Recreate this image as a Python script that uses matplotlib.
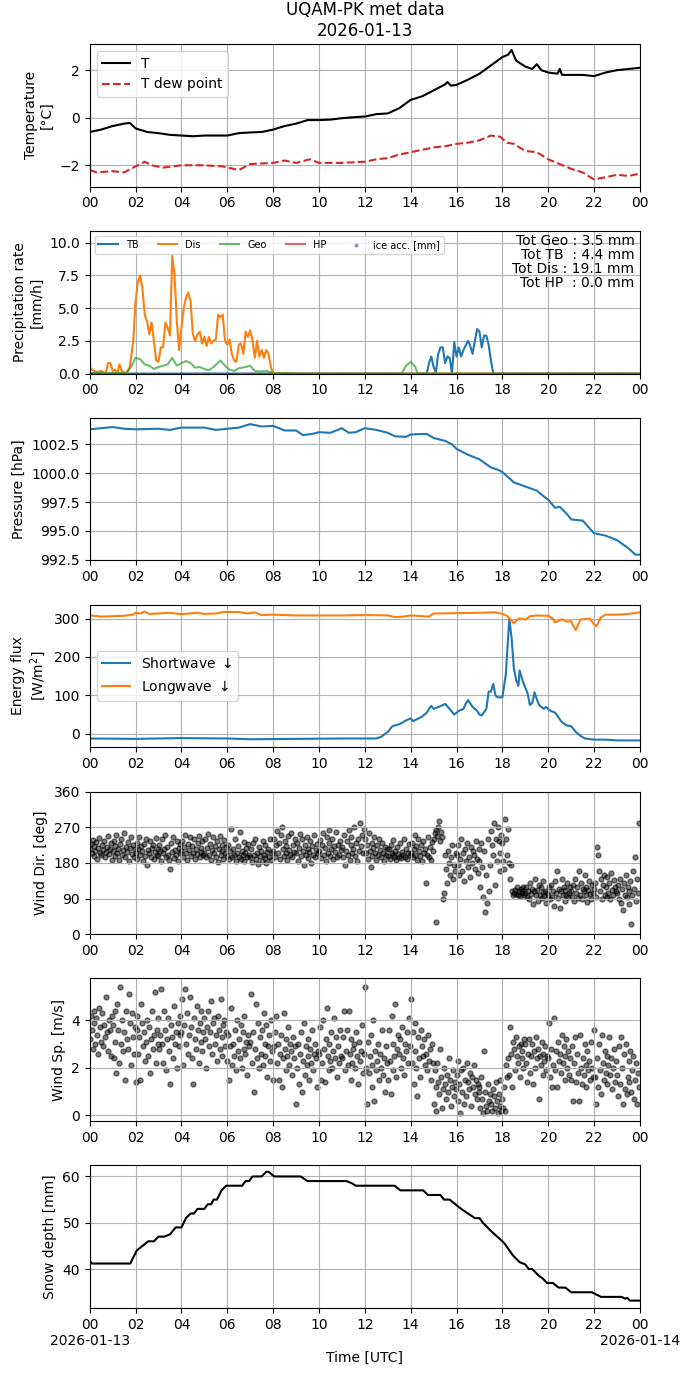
import numpy as np
from matplotlib import pyplot as plt

# time axis in hours since 2026-01-13 00 UTC
t_hours = [0, 0.5, 1, 1.5, 1.75, 2, 2.5, 3, 3.5, 4, 4.5, 5, 5.5, 6, 6.5, 7, 7.5, 8,
           8.5, 9, 9.5, 10, 10.5, 11, 11.5, 12, 12.5, 13, 13.5, 14, 14.5, 15, 15.5,
           15.6, 15.75, 16, 16.5, 17, 17.5, 18, 18.25, 18.4, 18.6, 19, 19.3, 19.5,
           19.7, 20, 20.4, 20.5, 20.6, 21, 21.5, 22, 22.5, 23, 23.5, 24]
temp = [-0.6, -0.5, -0.35, -0.25, -0.22, -0.45, -0.6, -0.65, -0.72, -0.75, -0.78,
        -0.75, -0.75, -0.75, -0.65, -0.62, -0.6, -0.5, -0.35, -0.25, -0.1, -0.1,
        -0.08, -0.02, 0.02, 0.05, 0.15, 0.18, 0.4, 0.75, 0.9, 1.15, 1.4, 1.5, 1.35,
        1.38, 1.6, 1.85, 2.2, 2.55, 2.65, 2.85, 2.4, 2.15, 2.05, 2.25, 2.0, 1.9,
        1.85, 2.05, 1.8, 1.8, 1.8, 1.75, 1.9, 2.0, 2.05, 2.1]

td_hours = [0, 0.3, 1, 1.5, 1.9, 2.4, 2.7, 3.2, 4, 5, 5.8, 6.5, 7, 8, 8.5, 9, 9.6,
            10, 11, 12, 12.5, 13, 13.5, 14, 14.5, 15, 15.5, 16, 16.5, 17, 17.5, 17.9,
            18.2, 18.5, 19, 19.5, 20, 20.5, 21, 21.5, 22, 22.5, 23, 23.5, 24]
tdew = [-2.2, -2.3, -2.25, -2.3, -2.1, -1.85, -2.0, -2.1, -2.0, -2.0, -2.05, -2.2,
        -1.95, -1.9, -1.8, -1.9, -1.75, -1.9, -1.9, -1.85, -1.75, -1.7, -1.55, -1.45,
        -1.35, -1.25, -1.2, -1.1, -1.05, -0.95, -0.75, -0.8, -1.05, -1.1, -1.4, -1.45,
        -1.75, -1.95, -2.15, -2.3, -2.6, -2.5, -2.4, -2.45, -2.35]

# precipitation rates [mm/h]
dis_hours = [0, 0.1, 0.3, 0.5, 0.7, 0.8, 0.9, 1.0, 1.1, 1.2, 1.3, 1.4, 1.5, 1.6, 1.75,
             1.9, 2.0, 2.1, 2.2, 2.3, 2.4, 2.5, 2.6, 2.7, 2.8, 2.9, 3.0, 3.1, 3.2, 3.3,
             3.4, 3.5, 3.6, 3.7, 3.8, 3.9, 4.0, 4.1, 4.2, 4.3, 4.4, 4.5, 4.6, 4.7, 4.8,
             4.9, 5.0, 5.1, 5.2, 5.3, 5.4, 5.5, 5.6, 5.7, 5.8, 5.9, 6.0, 6.1, 6.2, 6.3,
             6.4, 6.5, 6.6, 6.7, 6.8, 6.9, 7.0, 7.1, 7.2, 7.3, 7.4, 7.5, 7.6, 7.7, 7.8,
             7.9, 8.0, 24]
dis = [0.5, 0.3, 0.1, 0.2, 0.0, 0.8, 0.8, 0.2, 0.3, 0.0, 0.7, 0.2, 0.1, 0.0, 0.5,
       2.5, 5.5, 7.0, 7.5, 6.5, 4.5, 4.0, 3.0, 3.9, 2.5, 1.0, 0.9, 2.0, 2.0, 3.9,
       3.5, 2.9, 9.0, 7.5, 4.0, 1.8, 3.5, 5.0, 5.8, 6.2, 5.5, 3.0, 2.5, 3.0, 3.2,
       2.3, 2.8, 2.1, 2.8, 2.3, 2.5, 2.6, 4.5, 4.3, 4.5, 2.5, 2.2, 2.6, 1.5, 1.0,
       0.9, 2.2, 2.3, 1.5, 3.2, 2.8, 3.3, 2.5, 1.2, 2.5, 1.3, 1.8, 1.2, 1.8, 1.5,
       0.5, 0.0, 0.0]

geo_hours = [0, 1.6, 1.8, 2.0, 2.2, 2.4, 2.6, 2.8, 3.0, 3.2, 3.4, 3.6, 3.8, 4.0, 4.2,
             4.4, 4.6, 4.8, 5.0, 5.2, 5.4, 5.7, 5.9, 6.1, 6.3, 6.5, 6.8, 7.0, 7.2, 7.4,
             7.7, 7.9, 8.2, 8.6, 9, 13.6, 13.8, 14.0, 14.2, 14.3, 24]
geo = [0.05, 0.05, 0.5, 1.2, 1.1, 0.7, 0.6, 0.35, 0.5, 0.6, 0.7, 1.2, 0.6, 0.8, 0.95,
       0.8, 0.45, 0.5, 0.35, 0.25, 0.5, 1.0, 0.6, 0.3, 0.2, 0.4, 0.5, 0.6, 0.2, 0.15,
       0.2, 0.1, 0.0, 0.05, 0.0, 0.0, 0.6, 0.9, 0.5, 0.0, 0.0]

tb_hours = [0, 14.7, 14.8, 14.9, 15.0, 15.1, 15.2, 15.3, 15.4, 15.5, 15.6, 15.7, 15.8,
            15.9, 16.0, 16.1, 16.2, 16.3, 16.5, 16.6, 16.7, 16.8, 16.9, 17.0, 17.1,
            17.2, 17.3, 17.4, 17.5, 17.6, 24]
tb = [0.0, 0.0, 0.8, 1.3, 0.5, 0.1, 1.5, 2.0, 2.0, 0.8, 1.3, 1.2, 0.0, 2.4, 1.3, 2.0,
      1.3, 1.8, 2.5, 2.1, 1.5, 2.5, 3.4, 3.2, 2.0, 2.9, 2.9, 2.2, 1.0, 0.0, 0.0]

hp_hours = [0, 24]
hp = [0.0, 0.0]
ice_hours = list(range(25))
ice = [0.0] * 25

tot_geo, tot_tb, tot_dis, tot_hp = 3.5, 4.4, 19.1, 0.0

p_hours = [0, 0.5, 1, 1.5, 2, 3, 3.5, 4, 5, 5.5, 6, 6.5, 7, 7.5, 8, 8.5, 9, 9.3, 9.7,
           10, 10.5, 11, 11.3, 11.6, 12, 12.5, 13, 13.3, 13.8, 14, 14.5, 14.7, 15,
           15.5, 15.8, 16, 16.5, 17, 17.5, 17.8, 18, 18.5, 19, 19.5, 19.8, 20, 20.3,
           20.5, 20.8, 21, 21.5, 22, 22.5, 23, 23.5, 23.8, 24]
pres = [1003.8, 1003.9, 1004.0, 1003.85, 1003.8, 1003.85, 1003.75, 1003.95, 1003.95,
        1003.75, 1003.85, 1003.95, 1004.25, 1004.05, 1004.1, 1003.7, 1003.7, 1003.3,
        1003.4, 1003.55, 1003.5, 1003.9, 1003.5, 1003.55, 1003.9, 1003.75, 1003.5,
        1003.2, 1003.15, 1003.35, 1003.4, 1003.4, 1003.05, 1002.8, 1002.5, 1002.1,
        1001.6, 1001.2, 1000.5, 1000.3, 1000.1, 999.2, 998.85, 998.5, 998.0, 997.7,
        997.0, 997.1, 996.5, 996.0, 995.9, 994.8, 994.6, 994.2, 993.5, 992.95, 992.95]

sw_hours = [0, 2, 4, 6, 7, 9, 11, 12, 12.5, 12.7, 13, 13.2, 13.5, 13.8, 14, 14.1, 14.5,
            14.7, 14.8, 14.9, 15, 15.3, 15.5, 15.7, 15.9, 16, 16.1, 16.3, 16.4, 16.5,
            16.7, 16.9, 17, 17.1, 17.3, 17.4, 17.5, 17.6, 17.7, 17.8, 18.0, 18.15,
            18.3, 18.4, 18.5, 18.6, 18.7, 18.75, 18.9, 19.1, 19.2, 19.3, 19.4, 19.5,
            19.6, 19.8, 19.9, 20.1, 20.3, 20.6, 20.8, 21.0, 21.2, 21.4, 21.6, 22,
            22.5, 23, 24]
sw = [-12, -13, -11, -12, -14, -13, -12, -12, -12, -8, 5, 20, 25, 35, 40, 33, 45, 55,
      65, 73, 65, 72, 78, 65, 50, 55, 60, 65, 78, 88, 70, 60, 50, 48, 65, 110, 110,
      130, 100, 95, 95, 155, 300, 250, 170, 140, 125, 165, 135, 105, 75, 80, 108, 90,
      75, 65, 70, 60, 55, 30, 22, 20, 5, -5, -12, -15, -15, -17, -17]

lw_hours = [0, 0.5, 1, 1.5, 1.9, 2.0, 2.2, 2.4, 2.6, 3, 3.5, 4, 4.3, 4.7, 5, 5.5, 5.8,
            6.5, 6.9, 7.2, 7.5, 8, 9, 10, 11, 12, 13, 13.3, 13.7, 14, 14.8, 15, 16,
            17, 17.7, 18, 18.2, 18.4, 18.5, 18.7, 18.8, 19, 19.2, 19.5, 20, 20.2, 20.3,
            20.6, 20.8, 21, 21.1, 21.2, 21.4, 21.8, 22, 22.1, 22.3, 22.5, 23, 23.5, 24]
lw = [308, 305, 306, 307, 310, 315, 313, 318, 312, 313, 315, 311, 313, 315, 312, 313,
      317, 317, 313, 316, 309, 310, 308, 308, 308, 309, 308, 304, 305, 308, 305, 313,
      314, 315, 316, 312, 307, 295, 287, 300, 300, 297, 306, 308, 307, 300, 290, 298,
      292, 293, 280, 270, 297, 300, 285, 280, 303, 310, 310, 312, 316]

# wind, 24 samples per hour (every 2.5 min), one row per hour
wdir = [
    215, 228, 205, 238, 198, 222, 210, 232, 190, 218, 242, 205, 200, 226, 212, 235, 195, 208, 220, 248, 202, 215, 230, 188,
    210, 235, 198, 222, 250, 205, 215, 188, 228, 240, 200, 212, 255, 195, 220, 208, 232, 185, 218, 245, 202, 226, 196, 214,
    205, 230, 190, 215, 245, 200, 222, 210, 185, 228, 198, 240, 175, 212, 205, 235, 195, 218, 225, 190, 208, 242, 200, 214,
    198, 225, 210, 185, 240, 205, 215, 250, 195, 220, 200, 188, 165, 230, 208, 245, 192, 212, 200, 235, 185, 218, 205, 228,
    210, 235, 195, 220, 250, 205, 188, 228, 212, 245, 198, 222, 206, 240, 190, 215, 202, 230, 248, 196, 218, 208, 236, 200,
    205, 240, 195, 218, 252, 200, 228, 188, 212, 245, 206, 222, 196, 235, 182, 215, 248, 200, 226, 210, 190, 238, 204, 220,
    198, 225, 190, 210, 265, 195, 215, 200, 240, 185, 205, 222, 196, 258, 190, 210, 200, 232, 186, 204, 218, 195, 228, 200,
    195, 215, 182, 230, 200, 240, 190, 205, 178, 220, 198, 210, 186, 236, 200, 192, 225, 180, 208, 215, 196, 240, 188, 205,
    210, 240, 195, 225, 260, 205, 230, 190, 250, 270, 215, 198, 236, 205, 222, 188, 248, 212, 200, 255, 196, 226, 208, 240,
    205, 230, 185, 218, 252, 198, 240, 210, 175, 225, 200, 245, 192, 215, 208, 236, 180, 222, 200, 250, 195, 212, 228, 205,
    210, 238, 192, 225, 255, 200, 218, 185, 245, 205, 230, 262, 198, 215, 240, 190, 222, 208, 258, 196, 226, 200, 235, 212,
    220, 195, 250, 175, 210, 235, 200, 262, 188, 225, 245, 205, 215, 270, 198, 230, 185, 240, 210, 280, 222, 250, 205, 265,
    240, 205, 225, 190, 255, 210, 170, 230, 198, 218, 245, 205, 188, 225, 200, 240, 212, 195, 230, 205, 185, 220, 200, 215,
    198, 215, 190, 225, 205, 200, 238, 195, 210, 188, 220, 202, 196, 230, 192, 208, 200, 240, 195, 215, 190, 205, 228, 200,
    205, 230, 195, 215, 250, 200, 222, 188, 240, 210, 198, 225, 185, 235, 205, 215, 128, 200, 245, 195, 220, 188, 232, 210,
    240, 255, 30, 262, 248, 270, 285, 235, 258, 245, 90, 105, 200, 165, 130, 210, 180, 150, 195, 225, 140, 175, 160, 205,
    200, 175, 225, 150, 190, 240, 160, 205, 135, 215, 185, 230, 170, 195, 145, 220, 180, 210, 200, 165, 235, 190, 155, 215,
    185, 120, 230, 170, 95, 210, 55, 150, 80, 240, 110, 175, 260, 225, 200, 280, 125, 240, 185, 270, 235, 205, 160, 250,
    230, 185, 165, 290, 240, 200, 265, 180, 140, 175, 110, 98, 105, 112, 102, 118, 100, 108, 96, 115, 104, 110, 120, 100,
    105, 120, 95, 110, 88, 130, 102, 115, 75, 108, 140, 98, 112, 85, 125, 100, 118, 92, 106, 135, 96, 110, 80, 104,
    100, 118, 88, 125, 95, 110, 70, 135, 105, 160, 92, 115, 65, 108, 140, 98, 120, 85, 112, 100, 130, 94, 105, 118,
    110, 95, 125, 85, 140, 105, 118, 92, 160, 100, 130, 88, 115, 108, 150, 98, 120, 82, 112, 135, 102, 90, 125, 105,
    115, 130, 95, 220, 200, 160, 110, 140, 88, 125, 150, 100, 118, 95, 145, 105, 130, 90, 155, 112, 98, 138, 120, 108,
    105, 125, 90, 140, 80, 115, 60, 130, 100, 150, 95, 120, 75, 110, 135, 25, 98, 160, 115, 195, 85, 140, 105, 280,
]
wspd = [
    3.2, 4.2, 3.6, 2.8, 4.4, 3.9, 3.0, 4.1, 3.4, 2.6, 4.5, 3.7, 3.1, 4.3, 2.9, 3.8, 3.3, 5.0, 3.5, 2.7, 4.0, 3.6, 2.5, 4.2,
    3.8, 2.4, 4.4, 3.1, 1.8, 4.7, 3.6, 2.2, 5.4, 3.0, 4.0, 2.7, 3.5, 1.5, 4.4, 3.2, 2.8, 5.1, 3.9, 2.1, 4.3, 3.3, 2.6, 3.7,
    1.4, 3.6, 4.2, 2.6, 3.3, 1.5, 4.7, 3.9, 2.9, 3.5, 2.3, 3.1, 4.0, 2.5, 3.7, 1.8, 3.2, 4.4, 2.8, 3.4, 5.2, 2.2, 3.6, 3.0,
    4.1, 2.8, 3.4, 5.3, 3.0, 2.2, 4.4, 3.6, 1.9, 3.2, 4.1, 2.7, 1.3, 3.8, 3.3, 2.4, 4.6, 3.0, 3.5, 2.0, 3.9, 2.9, 4.2, 3.4,
    3.5, 4.9, 2.1, 3.8, 5.3, 3.0, 4.3, 2.6, 3.4, 5.0, 3.7, 2.4, 1.3, 4.1, 3.2, 2.8, 4.6, 3.6, 2.2, 3.9, 3.1, 4.4, 2.7, 3.5,
    4.1, 3.2, 2.0, 3.7, 4.4, 2.9, 3.5, 4.8, 2.6, 3.9, 4.1, 3.0, 3.4, 2.3, 4.2, 3.6, 2.8, 4.9, 3.3, 2.5, 3.8, 4.0, 2.9, 3.5,
    2.3, 3.4, 1.5, 2.9, 4.5, 2.1, 3.0, 2.5, 3.6, 1.9, 4.0, 2.7, 3.2, 2.4, 3.8, 2.0, 3.5, 2.8, 4.2, 2.6, 3.1, 1.7, 3.4, 2.9,
    3.1, 5.1, 2.2, 3.5, 1.0, 2.8, 4.7, 2.4, 3.9, 2.0, 3.3, 2.6, 3.6, 2.1, 4.3, 3.0, 2.5, 3.8, 1.6, 2.9, 3.4, 2.3, 4.0, 2.7,
    1.5, 2.9, 3.5, 4.2, 2.2, 3.0, 1.5, 2.6, 3.4, 1.2, 2.4, 4.3, 2.8, 3.2, 1.9, 2.5, 3.7, 2.1, 3.0, 2.7, 1.7, 3.3, 2.4, 2.9,
    0.5, 2.0, 3.0, 1.3, 2.6, 3.5, 1.0, 2.3, 3.9, 1.7, 2.9, 2.1, 2.5, 3.2, 1.5, 2.8, 2.2, 3.6, 1.9, 2.6, 3.0, 2.4, 1.2, 2.7,
    2.6, 3.7, 1.5, 2.2, 4.0, 2.8, 1.4, 3.2, 4.5, 2.5, 1.9, 3.0, 2.3, 3.5, 2.0, 2.7, 4.1, 2.4, 3.3, 1.6, 2.9, 2.2, 3.6, 2.5,
    2.4, 3.3, 4.4, 1.9, 2.7, 3.6, 2.1, 4.4, 2.6, 1.5, 3.2, 2.2, 2.8, 3.0, 2.0, 3.5, 2.5, 1.3, 3.1, 2.3, 2.7, 3.8, 1.8, 2.6,
    5.4, 2.0, 0.5, 3.1, 1.8, 2.5, 3.4, 1.2, 2.1, 4.0, 0.6, 2.7, 1.9, 2.3, 3.0, 1.5, 2.6, 2.0, 3.6, 1.7, 2.4, 1.0, 2.9, 2.2,
    1.5, 3.6, 2.3, 0.9, 4.2, 1.9, 3.0, 2.5, 4.7, 1.6, 2.8, 3.4, 2.6, 3.2, 2.0, 3.7, 2.4, 1.7, 3.0, 2.7, 3.5, 2.2, 4.1, 2.9,
    4.9, 2.2, 3.5, 1.3, 2.7, 3.9, 2.0, 0.8, 3.3, 2.4, 1.6, 3.6, 2.9, 2.5, 3.2, 2.1, 2.6, 1.9, 3.4, 2.3, 2.8, 1.5, 3.0, 2.2,
    0.5, 1.9, 1.2, 0.2, 2.2, 1.4, 0.9, 2.8, 1.6, 0.3, 1.1, 2.0, 1.3, 0.7, 1.7, 1.0, 2.4, 1.5, 0.4, 1.2, 1.9, 0.8, 1.4, 1.1,
    1.7, 0.6, 2.3, 1.3, 0.1, 1.9, 1.0, 2.0, 0.5, 1.5, 0.8, 2.2, 1.4, 1.1, 1.8, 0.4, 1.6, 1.2, 2.1, 0.9, 1.5, 0.7, 1.3, 1.0,
    1.2, 0.3, 1.6, 0.7, 0.1, 2.7, 1.0, 0.4, 0.2, 1.3, 0.6, 0.9, 0.5, 0.2, 1.1, 0.8, 0.3, 1.4, 0.6, 0.1, 0.9, 0.4, 1.5, 0.2,
    0.7, 0.3, 1.2, 0.2, 2.1, 1.6, 2.4, 1.7, 3.7, 2.6, 1.2, 3.1, 2.8, 1.9, 3.3, 2.5, 2.2, 2.9, 1.6, 3.0, 2.4, 2.7, 2.0, 3.2,
    3.0, 2.2, 1.4, 2.6, 3.2, 1.8, 2.5, 3.0, 1.3, 2.7, 2.0, 3.3, 2.4, 2.8, 0.7, 2.5, 2.1, 3.1, 1.7, 2.6, 2.3, 2.9, 1.9, 2.5,
    2.4, 3.9, 1.6, 2.8, 1.2, 2.1, 4.1, 1.9, 2.7, 1.2, 3.1, 2.3, 2.6, 1.8, 3.4, 2.2, 2.9, 1.5, 2.5, 3.2, 2.0, 2.7, 1.7, 2.4,
    1.5, 2.9, 0.6, 2.2, 3.3, 1.4, 2.6, 1.8, 0.6, 3.4, 2.0, 1.3, 2.4, 1.7, 3.0, 2.1, 1.2, 2.7, 1.9, 2.3, 1.5, 3.1, 2.0, 1.6,
    3.6, 1.6, 0.5, 2.4, 1.2, 3.0, 1.9, 0.9, 3.4, 2.2, 1.5, 2.7, 1.8, 2.5, 1.3, 2.1, 3.3, 1.7, 2.4, 1.1, 2.0, 2.8, 1.4, 2.3,
    1.7, 0.8, 2.9, 1.3, 3.3, 2.0, 0.5, 2.6, 1.1, 3.0, 0.9, 1.6, 2.3, 1.4, 2.7, 1.0, 1.9, 2.5, 0.7, 1.5, 2.2, 0.5, 1.8, 1.2,
]
wind_hours = np.arange(len(wdir)) / 24.0

snow_hours = [0, 0.1, 1.77, 2.05, 2.3, 2.55, 2.8, 3.0, 3.25, 3.5, 3.75, 4.0, 4.2,
              4.4, 4.55, 4.7, 5.0, 5.15, 5.3, 5.4, 5.55, 5.75, 5.95, 6.65, 6.8, 6.95,
              7.1, 7.5, 7.7, 7.8, 8.05, 9.2, 9.5, 11.2, 11.45, 11.6, 13.3, 13.55,
              14.55, 14.75, 15.3, 15.45, 15.7, 15.95, 16.2, 16.5, 16.8, 17.0, 17.15,
              17.55, 18.0, 18.1, 18.45, 18.75, 19.0, 19.15, 19.3, 19.6, 19.75, 19.95,
              20.2, 20.45, 20.75, 21.0, 21.9, 22.1, 22.3, 23.2, 23.35, 23.45, 23.55, 24]
snow = [41.8, 41.2, 41.2, 44, 45, 46, 46, 47, 47, 47.5, 49, 49, 51, 52, 52, 53, 53,
        54, 54, 55, 55, 57, 58, 58, 59, 59, 60, 60, 61, 61, 60, 60, 59, 59, 58.5, 58,
        58, 57, 57, 56, 56, 55, 55, 54, 53, 52, 51, 51, 50, 48, 46, 45.5, 43, 41.5,
        41, 40, 40, 38.5, 38, 37, 37, 36, 36, 35, 35, 34.5, 34, 34, 33.6, 33.8, 33.2,
        33.2]

day_labels = ['2026-01-13', '2026-01-14']

fig, axs = plt.subplots(7, 1, figsize=(6.9, 13.77), dpi=100)
fig.subplots_adjust(left=0.130, right=0.9275, top=1 - 44 / 1377,
                    bottom=1 - 1308 / 1377, hspace=0.31)

ax = axs[0]
ax.plot(t_hours, temp, color='k', lw=1.5, label='T')
ax.plot(td_hours, tdew, color='tab:red', ls='--', lw=1.5, label='T dew point')
ax.set_ylim(-2.9, 3.1)
ax.set_ylabel('Temperature\n[°C]')
ax.legend(loc='upper left')
ax.set_title('UQAM-PK met data\n2026-01-13')

ax = axs[1]
ax.plot(tb_hours, tb, color='tab:blue', lw=1.5, label='TB')
ax.plot(dis_hours, dis, color='tab:orange', lw=1.5, label='Dis')
ax.plot(geo_hours, geo, color='tab:green', lw=1.5, alpha=0.7, label='Geo')
ax.plot(hp_hours, hp, color='tab:red', lw=1.5, alpha=0.7, label='HP')
ax.scatter(ice_hours, ice, color='tab:purple', s=4, alpha=0.7, label='ice acc. [mm]')
ax.set_ylim(0, 10.9)
ax.set_ylabel('Precipitation rate\n[mm/h]')
ax.legend(loc='upper left', ncol=5, fontsize=7)
ax.text(0.99, 0.98, 'Tot Geo : %.1f mm\nTot TB  : %.1f mm\nTot Dis : %.1f mm\nTot HP  : %.1f mm'
        % (tot_geo, tot_tb, tot_dis, tot_hp),
        transform=ax.transAxes, ha='right', va='top', fontsize=10, linespacing=1.0)

ax = axs[2]
ax.plot(p_hours, pres, color='tab:blue', lw=1.5)
ax.set_ylim(992.45, 1004.8)
ax.set_ylabel('Pressure [hPa]')

ax = axs[3]
ax.plot(sw_hours, sw, color='tab:blue', lw=1.5, label='Shortwave $\\downarrow$')
ax.plot(lw_hours, lw, color='tab:orange', lw=1.5, label='Longwave $\\downarrow$')
ax.set_ylim(-35, 336)
ax.set_ylabel('Energy flux\n[W/m$^2$]')
ax.legend(loc='center left')

ax = axs[4]
ax.scatter(wind_hours, wdir, color='k', s=13, alpha=0.5)
ax.set_ylim(0, 360)
ax.set_yticks([0, 90, 180, 270, 360])
ax.set_ylabel('Wind Dir. [deg]')

ax = axs[5]
ax.scatter(wind_hours, wspd, color='k', s=13, alpha=0.5)
ax.set_ylim(-0.24, 5.76)
ax.set_ylabel('Wind Sp. [m/s]')

ax = axs[6]
ax.plot(snow_hours, snow, color='k', lw=1.5)
ax.set_ylim(31.6, 62.4)
ax.set_ylabel('Snow depth [mm]')
ax.set_xlabel('Time [UTC]', labelpad=14)

ticks = list(range(0, 25, 2))
labels = ['%02d' % (h % 24) for h in ticks]
for ax in axs:
    ax.set_xlim(0, 24)
    ax.set_xticks(ticks)
    ax.set_xticklabels(labels)
    ax.grid(True)

# day labels under the first and last tick
for x, lab in zip([0, 24], day_labels):
    axs[6].annotate(lab, xy=(x, 0), xycoords=('data', 'axes fraction'),
                    xytext=(0, -19), textcoords='offset points',
                    ha='center', va='top', fontsize=10)

fig.savefig('out.png', dpi=100)
